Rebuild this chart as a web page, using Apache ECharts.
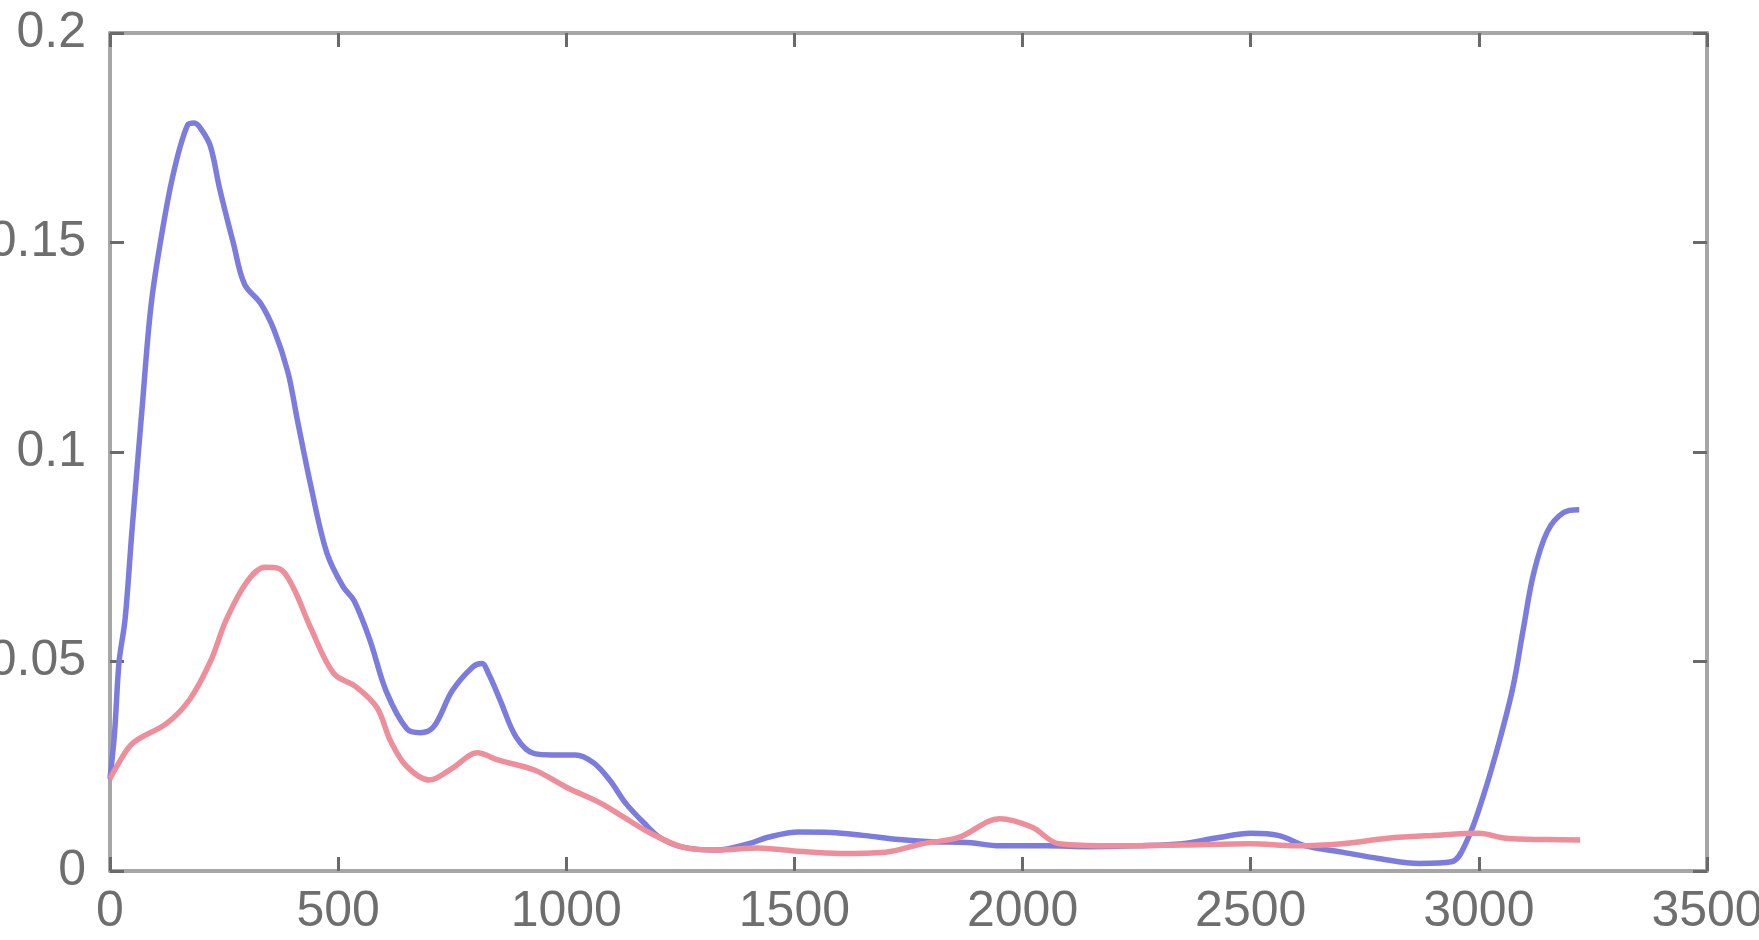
<!DOCTYPE html>
<html>
<head>
<meta charset="utf-8">
<script src="https://cdn.jsdelivr.net/npm/echarts@6/dist/echarts.min.js"></script>
<style>
  html, body { margin: 0; padding: 0; background: #ffffff; }
  #chart { width: 1759px; height: 940px; }
</style>
</head>
<body>
<div id="chart"></div>
<script>
// Axis ticks
const xTicks = [0, 500, 1000, 1500, 2000, 2500, 3000, 3500];
const yTicks = [0, 0.05, 0.1, 0.15, 0.2];

// Blue curve samples
const blueX = [0, 10, 20, 33, 48, 70, 90, 115, 140, 170, 185, 200, 220, 240, 270, 295, 330, 360, 390, 410,
  440, 475, 510, 535, 570, 605, 650, 680, 710, 750, 795, 815, 830, 855, 890, 930, 970, 1020, 1060, 1095,
  1130, 1170, 1205, 1255, 1330, 1400, 1440, 1510, 1580, 1650, 1730, 1800, 1880, 1950, 2050, 2150, 2250,
  2350, 2430, 2500, 2560, 2620, 2700, 2780, 2870, 2940, 2975, 3010, 3045, 3075, 3097, 3120, 3150, 3185, 3220];
const blueY = [0.022, 0.033, 0.05, 0.06, 0.081, 0.11, 0.135, 0.153, 0.167, 0.178, 0.1785, 0.177, 0.173, 0.163,
  0.150, 0.140, 0.1355, 0.129, 0.119, 0.108, 0.092, 0.076, 0.068, 0.0645, 0.055, 0.043, 0.034, 0.033, 0.0345,
  0.043, 0.0487, 0.0495, 0.047, 0.0408, 0.032, 0.028, 0.0277, 0.0277, 0.0258, 0.0217, 0.0162, 0.0115, 0.008,
  0.0057, 0.005, 0.0065, 0.008, 0.0093, 0.0092, 0.0085, 0.0075, 0.007, 0.0068, 0.006, 0.006, 0.0058, 0.006,
  0.0065, 0.008, 0.009, 0.0085, 0.006, 0.0045, 0.003, 0.0018, 0.0022, 0.0075, 0.018, 0.031, 0.044, 0.0575,
  0.071, 0.081, 0.0855, 0.0862];

// Red curve samples
const redX = [0, 15, 50, 125, 175, 220, 255, 300, 340, 370, 400, 440, 490, 540, 585, 615, 650, 700, 750, 805,
  850, 930, 1000, 1075, 1125, 1185, 1255, 1330, 1420, 1500, 1600, 1700, 1780, 1860, 1950, 2020, 2080, 2200,
  2350, 2500, 2600, 2700, 2800, 2900, 3000, 3060, 3150, 3222];
const redY = [0.022, 0.025, 0.0305, 0.0353, 0.041, 0.050, 0.060, 0.069, 0.0725, 0.0722, 0.068, 0.058, 0.0472,
  0.0439, 0.039, 0.031, 0.025, 0.0217, 0.0245, 0.0282, 0.0265, 0.0241, 0.020, 0.0162, 0.0129, 0.009, 0.0057,
  0.005, 0.0055, 0.0048, 0.0042, 0.0045, 0.0065, 0.008, 0.0125, 0.0105, 0.0065, 0.006, 0.0062, 0.0065, 0.006,
  0.0065, 0.0078, 0.0085, 0.009, 0.0078, 0.0075, 0.0074];

const pairs = (xs, ys) => xs.map((x, i) => [x, ys[i]]);

const labelFont = {
  fontFamily: '"Liberation Sans", Arial, sans-serif',
  fontSize: 50,
  color: '#6e6e6e'
};
const frameLine = { show: true, onZero: false, lineStyle: { color: '#a6a6a6', width: 4 } };
const innerTick = { show: true, inside: true, length: 14, lineStyle: { color: '#6a6a6a', width: 3 } };
const plainNumber = v => String(v);

const chart = echarts.init(document.getElementById('chart'), null, { renderer: 'canvas' });
chart.setOption({
  backgroundColor: '#ffffff',
  animation: false,
  // fixed plot box; tick labels may run past the canvas edge
  grid: { left: 110, right: 52, top: 33, bottom: 69, containLabel: false, outerBoundsMode: 'none' },
  xAxis: [
    {
      type: 'value', position: 'bottom', min: xTicks[0], max: xTicks[xTicks.length - 1], interval: 500,
      axisLine: frameLine, axisTick: innerTick, splitLine: { show: false },
      axisLabel: Object.assign({ margin: 16, formatter: plainNumber }, labelFont)
    },
    {
      type: 'value', position: 'top', min: xTicks[0], max: xTicks[xTicks.length - 1], interval: 500,
      axisLine: frameLine, axisTick: innerTick, splitLine: { show: false }, axisLabel: { show: false }
    }
  ],
  yAxis: [
    {
      type: 'value', position: 'left', min: yTicks[0], max: yTicks[yTicks.length - 1], interval: 0.05,
      axisLine: frameLine, axisTick: innerTick, splitLine: { show: false },
      axisLabel: Object.assign({ margin: 24, formatter: plainNumber }, labelFont)
    },
    {
      type: 'value', position: 'right', min: yTicks[0], max: yTicks[yTicks.length - 1], interval: 0.05,
      axisLine: frameLine, axisTick: innerTick, splitLine: { show: false }, axisLabel: { show: false }
    }
  ],
  series: [
    {
      type: 'line', xAxisIndex: 0, yAxisIndex: 0, data: pairs(blueX, blueY),
      symbol: 'none', smooth: 0.35,
      lineStyle: { color: '#7c7cde', width: 5.5 }
    },
    {
      type: 'line', xAxisIndex: 0, yAxisIndex: 0, data: pairs(redX, redY),
      symbol: 'none', smooth: 0.35,
      lineStyle: { color: '#ee8e9a', width: 5.5 }
    }
  ]
});
</script>
</body>
</html>
